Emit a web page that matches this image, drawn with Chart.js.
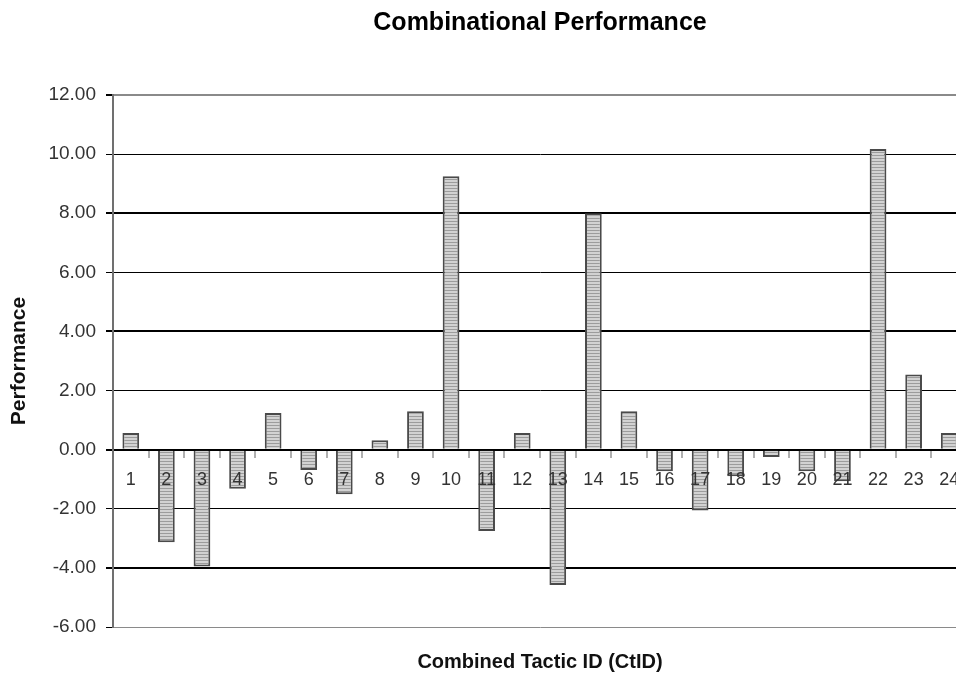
<!DOCTYPE html>
<html>
<head>
<meta charset="utf-8">
<script src="https://cdn.jsdelivr.net/npm/chart.js@4.4.1/dist/chart.umd.min.js"></script>
<style>
    html, body { margin: 0; padding: 0; overflow: hidden; background: #fff; }
    #wrap { width: 975px; height: 675px; }
</style>
</head>
<body>
<div id="wrap"><canvas id="perfChart"></canvas></div>
<script>
// データ
const tacticIds = ['1', '2', '3', '4', '5', '6', '7', '8', '9', '10', '11', '12',
                   '13', '14', '15', '16', '17', '18', '19', '20', '21', '22', '23', '24'];
const performance = [0.56, -3.13, -3.95, -1.32, 1.24, -0.69, -1.51, 0.32, 1.30, 9.25, -2.75, 0.56,
                     -4.58, 8.00, 1.30, -0.73, -2.06, -0.90, -0.25, -0.73, -1.07, 10.17, 2.54, 0.56];
const yMin = -6;
const yMax = 12;
const yStep = 2;

const FONT = "'Liberation Sans', Arial, sans-serif";

// 横縞模様のバー塗り
function stripePattern() {
    const c = document.createElement('canvas');
    c.width = 4;
    c.height = 3;
    const g = c.getContext('2d');
    g.fillStyle = '#d2d2d2';
    g.fillRect(0, 0, 4, 3);
    g.fillStyle = '#9c9c9c';
    g.fillRect(0, 2, 4, 1);
    return g.createPattern(c, 'repeat');
}

const ctx = document.getElementById('perfChart').getContext('2d');

new Chart(ctx, {
    type: 'bar',
    data: {
        labels: tacticIds,
        datasets: [{
            label: 'Performance',
            data: performance,
            backgroundColor: stripePattern(),
            borderColor: '#4a4a4a',
            borderWidth: 2,
            barPercentage: 0.47,
            categoryPercentage: 1.0
        }]
    },
    options: {
        responsive: true,
        maintainAspectRatio: false,
        animation: false,
        layout: { padding: { left: 0, right: 8, top: 0, bottom: 0 } },
        plugins: {
            legend: { display: false },
            tooltip: { enabled: false },
            title: {
                display: true,
                text: 'Combinational Performance',
                fullSize: false,
                color: '#000',
                font: { family: FONT, size: 25, weight: 'bold' },
                padding: { top: 8, bottom: 57 }
            }
        },
        scales: {
            x: {
                type: 'category',
                position: { y: 0 },
                border: { display: false },
                grid: {
                    display: true,
                    drawOnChartArea: false,
                    drawTicks: true,
                    tickLength: 8,
                    color: '#b0b0b0',
                    lineWidth: 2,
                    offset: true
                },
                ticks: {
                    z: 1,
                    autoSkip: false,
                    maxRotation: 0,
                    padding: 12,
                    color: '#333',
                    font: { family: FONT, size: 18 }
                }
            },
            x2: {
                type: 'category',
                position: 'bottom',
                grid: { display: false },
                border: { display: false },
                ticks: { display: false },
                title: {
                    display: true,
                    text: 'Combined Tactic ID (CtID)',
                    color: '#111',
                    font: { family: FONT, size: 20, weight: 'bold' },
                    padding: { top: 0, bottom: 1 }
                },
                afterFit: (scale) => { scale.height = 48; }
            },
            y: {
                min: yMin,
                max: yMax,
                border: { display: true, color: '#707070', width: 2 },
                grid: {
                    color: (c) => (c.tick && (c.tick.value === yMax || c.tick.value === yMin)) ? '#8a8a8a' : '#000',
                    lineWidth: (c) => (c.tick && Math.abs(c.tick.value) % 4 === 2) ? 1 : 2,
                    tickColor: '#000',
                    tickLength: 7
                },
                ticks: {
                    stepSize: yStep,
                    padding: 10,
                    color: '#333',
                    font: { family: FONT, size: 19 },
                    callback: (v) => Number(v).toFixed(2)
                },
                title: {
                    display: true,
                    text: 'Performance',
                    color: '#111',
                    font: { family: FONT, size: 21, weight: 'bold' },
                    padding: { top: 7, bottom: 0 }
                },
                afterFit: (scale) => { scale.width = 113; }
            }
        }
    }
});
</script>
</body>
</html>
